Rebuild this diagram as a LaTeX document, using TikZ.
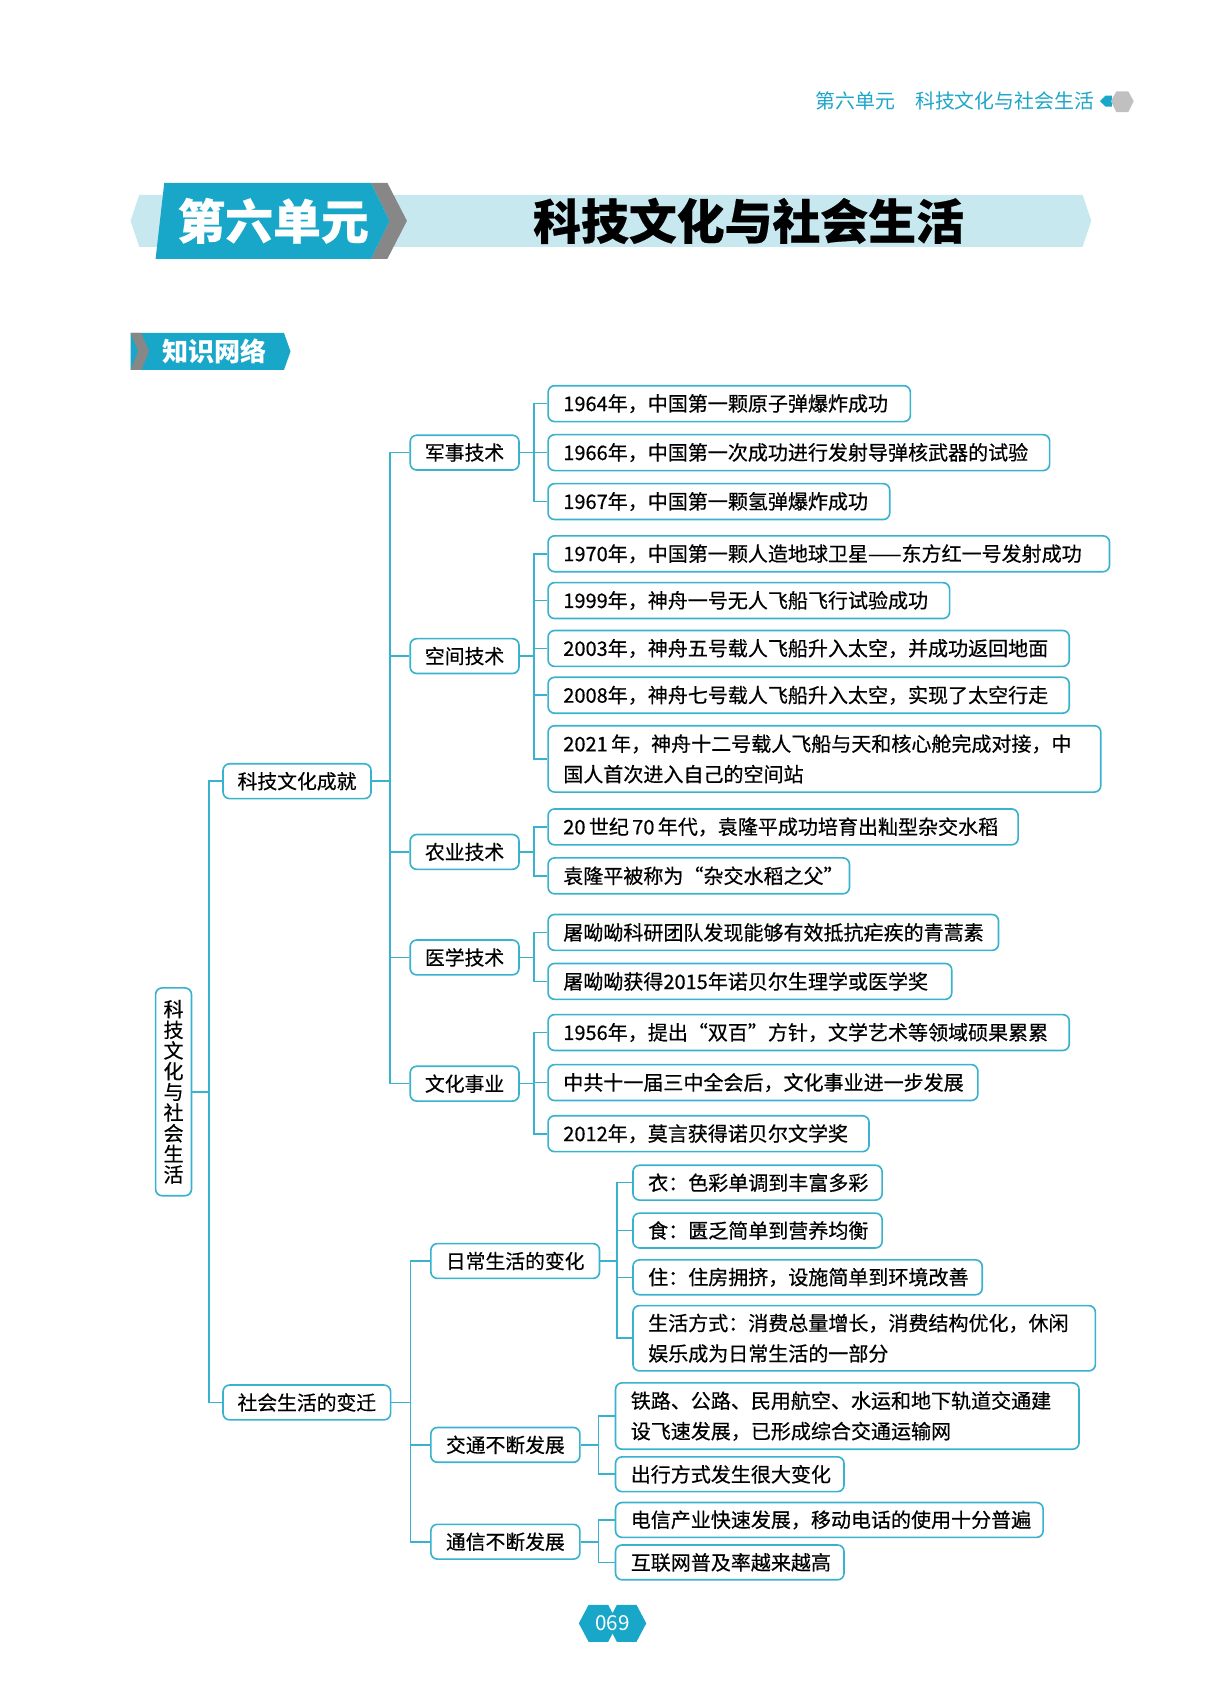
\documentclass[tikz,border=0pt]{standalone}
\usepackage{fontspec}
\setmainfont{Noto Sans CJK SC}
\newfontfamily\bodyf{Noto Sans CJK SC}[FakeBold=0.45]
\definecolor{linec}{RGB}{56,178,205}
\definecolor{tealc}{RGB}{24,166,201}
\definecolor{bandc}{RGB}{200,232,240}
\definecolor{greyc}{RGB}{135,135,135}
\definecolor{hdrc}{RGB}{30,165,200}
\definecolor{iconc}{RGB}{192,192,192}
\begin{document}
\begin{tikzpicture}[x=1pt,y=-1pt,
  box/.style={draw=linec,line width=1.5pt,rounded corners=6pt,fill=white,inner ysep=0pt},
  leaf/.style={box,anchor=west,align=left,inner xsep=14pt,font=\bodyf\fontsize{18.4}{28}\selectfont},
  mid/.style={box,inner xsep=0pt,minimum height=32pt,align=center,font=\bodyf\fontsize{18.2}{20}\selectfont},
  conn/.style={draw=linec,line width=1.5pt,sharp corners},
  wtext/.style={text=white,inner sep=0pt}]
\useasboundingbox (0,1) rectangle (1126,1569);

% header
\node[anchor=east,text=hdrc,inner sep=0pt,font=\fontsize{18.3}{18}\selectfont] (hdr) at (1006,94) {第六单元\hspace{1em}科技文化与社会生活};
\fill[tealc] (1011,94) -- (1016,89) -- (1022,89) -- (1022,99) -- (1016,99) -- cycle;
\fill[iconc] (1021,94) -- (1026,85) -- (1037,85) -- (1042,94) -- (1037,104) -- (1026,104) -- cycle;

% title banner
\fill[bandc] (120,204) -- (128,180) -- (995,180) -- (1003,204) -- (995,228) -- (128,228) -- cycle;
\fill[greyc] (341,169) -- (356,169) -- (374,204) -- (356,239) -- (341,239) -- (358,204) -- cycle;
\fill[tealc] (151,169) -- (341,169) -- (358,204) -- (341,239) -- (143,239) -- cycle;
\node[wtext,font=\bodyf\fontsize{44}{44}\selectfont\bfseries] (unit) at (251,204) {第六单元};
\node[inner sep=0pt,font=\bodyf\fontsize{44}{44}\selectfont\bfseries] (title) at (688,204) {科技文化与社会生活};

% section label
\fill[tealc] (120,307) -- (261,307) -- (267,324) -- (261,341) -- (120,341) -- cycle;
\fill[greyc] (120,307) -- (130,307) -- (137,324) -- (130,341) -- (120,341) -- (127,324) -- cycle;
\node[wtext,font=\fontsize{24}{24}\selectfont\bfseries] (sec) at (197,324) {知识网络};

% root
\node[box,minimum width=33pt,minimum height=191pt,inner sep=0pt,align=center,font=\bodyf\fontsize{18.4}{19}\selectfont] (root) at (159.5,1004.5) {科\\技\\文\\化\\与\\社\\会\\生\\活};

% level 1
\node[mid,minimum width=136pt] (k1) at (273,719) {科技文化成就};
\node[mid,minimum width=154pt] (k2) at (282,1290) {社会生活的变迁};

% level 2 (science)
\node[mid,minimum width=100pt] (m1) at (427,417) {军事技术};
\node[mid,minimum width=100pt] (m2) at (427,604) {空间技术};
\node[mid,minimum width=100pt] (m3) at (427,784) {农业技术};
\node[mid,minimum width=100pt] (m4) at (427,881) {医学技术};
\node[mid,minimum width=100pt] (m5) at (427,997) {文化事业};

% level 2 (society)
\node[mid,minimum width=155pt] (s1) at (473.5,1160) {日常生活的变化};
\node[mid,minimum width=137pt] (s2) at (464.5,1329) {交通不断发展};
\node[mid,minimum width=137pt] (s3) at (464.5,1418) {通信不断发展};

% leaves: military
\node[leaf,text width=305pt,minimum height=33pt] (a1) at (503,372) {1964年，中国第一颗原子弹爆炸成功};
\node[leaf,text width=433pt,minimum height=33pt] (a2) at (503,417) {1966年，中国第一次成功进行发射导弹核武器的试验};
\node[leaf,text width=286pt,minimum height=33pt] (a3) at (503,462) {1967年，中国第一颗氢弹爆炸成功};
% space
\node[leaf,text width=488pt,minimum height=33pt] (b1) at (503,510) {1970年，中国第一颗人造地球卫星——东方红一号发射成功};
\node[leaf,text width=341pt,minimum height=33pt] (b2) at (503,553) {1999年，神舟一号无人飞船飞行试验成功};
\node[leaf,text width=451pt,minimum height=33pt] (b3) at (503,597) {2003年，神舟五号载人飞船升入太空，并成功返回地面};
\node[leaf,text width=451pt,minimum height=33pt] (b4) at (503,640) {2008年，神舟七号载人飞船升入太空，实现了太空行走};
\node[leaf,text width=480pt,minimum height=61pt] (b5) at (503,698.5) {2021\,年，神舟十二号载人飞船与天和核心舱完成对接，中\\国人首次进入自己的空间站};
% agriculture
\node[leaf,text width=404pt,minimum height=33pt] (c1) at (503,761) {20\,世纪\,70\,年代，袁隆平成功培育出籼型杂交水稻};
\node[leaf,text width=249pt,minimum height=33pt] (c2) at (503,806) {袁隆平被称为“杂交水稻之父”};
% medicine
\node[leaf,text width=386pt,minimum height=33pt] (d1) at (503,858) {屠呦呦科研团队发现能够有效抵抗疟疾的青蒿素};
\node[leaf,text width=343pt,minimum height=33pt] (d2) at (503,903) {屠呦呦获得2015年诺贝尔生理学或医学奖};
% culture
\node[leaf,text width=451pt,minimum height=33pt] (e1) at (503,950) {1956年，提出“双百”方针，文学艺术等领域硕果累累};
\node[leaf,text width=367pt,minimum height=33pt] (e2) at (503,996) {中共十一届三中全会后，文化事业进一步发展};
\node[leaf,text width=267pt,minimum height=33pt] (e3) at (503,1043) {2012年，莫言获得诺贝尔文学奖};

% leaves: daily life
\node[leaf,text width=201pt,minimum height=32pt] (f1) at (581,1088) {衣：色彩单调到丰富多彩};
\node[leaf,text width=201pt,minimum height=32pt] (f2) at (581,1132) {食：匮乏简单到营养均衡};
\node[leaf,text width=293pt,minimum height=32pt] (f3) at (581,1175) {住：住房拥挤，设施简单到环境改善};
\node[leaf,text width=397pt,minimum height=60pt] (f4) at (581,1231) {生活方式：消费总量增长，消费结构优化，休闲\\娱乐成为日常生活的一部分};
% transport
\node[leaf,text width=398pt,minimum height=61pt] (g1) at (565,1302.5) {铁路、公路、民用航空、水运和地下轨道交通建\\设飞速发展，已形成综合交通运输网};
\node[leaf,text width=182pt,minimum height=32pt] (g2) at (565,1356) {出行方式发生很大变化};
% communication
\node[leaf,text width=365pt,minimum height=32pt] (h1) at (565,1398) {电信产业快速发展，移动电话的使用十分普遍};
\node[leaf,text width=182pt,minimum height=32pt] (h2) at (565,1437) {互联网普及率越来越高};

% connectors
\foreach \c in {k1,k2} \draw[conn] (\c.west) -- ++(-12,0) |- (root.east);
\foreach \c in {m1,m2,m3,m4,m5} \draw[conn] (\c.west) -- ++(-18,0) |- (k1.east);
\foreach \c in {a1,a2,a3} \draw[conn] (\c.west) -- ++(-12,0) |- (m1.east);
\foreach \c in {b1,b2,b3,b4,b5} \draw[conn] (\c.west) -- ++(-12,0) |- (m2.east);
\foreach \c in {c1,c2} \draw[conn] (\c.west) -- ++(-12,0) |- (m3.east);
\foreach \c in {d1,d2} \draw[conn] (\c.west) -- ++(-12,0) |- (m4.east);
\foreach \c in {e1,e2,e3} \draw[conn] (\c.west) -- ++(-12,0) |- (m5.east);
\foreach \c in {s1,s2,s3} \draw[conn] (\c.west) -- ++(-18,0) |- (k2.east);
\foreach \c in {f1,f2,f3,f4} \draw[conn] (\c.west) -- ++(-14,0) |- (s1.east);
\foreach \c in {g1,g2} \draw[conn] (\c.west) -- ++(-15,0) |- (s2.east);
\foreach \c in {h1,h2} \draw[conn] (\c.west) -- ++(-15,0) |- (s3.east);

% page number
\fill[tealc] (532,1493) -- (541,1476) -- (559,1476) -- (568,1493) -- (559,1510) -- (541,1510) -- cycle;
\fill[tealc] (558,1493) -- (567,1476) -- (585,1476) -- (594,1493) -- (585,1510) -- (567,1510) -- cycle;
\node[wtext,font=\fontsize{19}{19}\selectfont] (pg) at (563,1493) {069};
\end{tikzpicture}
\end{document}
